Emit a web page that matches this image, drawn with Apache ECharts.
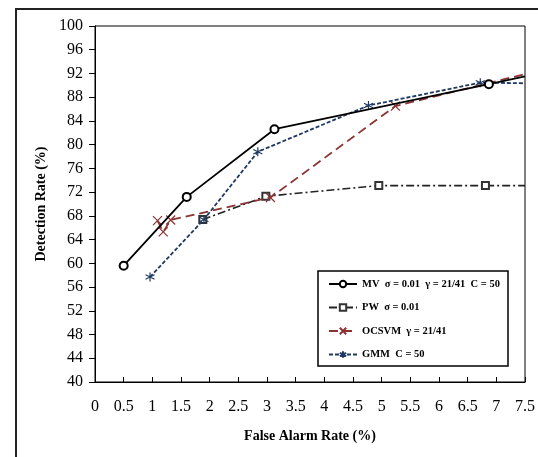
<!DOCTYPE html>
<html><head><meta charset="utf-8">
<script src="https://cdn.jsdelivr.net/npm/echarts@6/dist/echarts.min.js"></script>
<style>html,body{margin:0;padding:0;background:#fff}#c{width:538px;height:457px}</style>
</head><body><div id="c"></div>
<script>
// ---- data ----
const seriesNames = ['MV  \u03c3 = 0.01  \u03b3 = 21/41  C = 50', 'PW  \u03c3 = 0.01', 'OCSVM  \u03b3 = 21/41', 'GMM  C = 50'];
const mvX = [0.5, 1.6, 3.13, 6.87, 7.5];
const mvY = [59.6, 71.2, 82.6, 90.2, 91.5];
const pwX = [1.88, 2.98, 4.95, 6.81, 7.5];
const pwY = [67.4, 71.3, 73.1, 73.1, 73.1];
const ocX = [1.09, 1.19, 1.32, 3.06, 5.24, 7.5];
const ocY = [67.2, 65.3, 67.3, 71.1, 86.5, 91.9];
const gmX = [0.96, 1.9, 2.84, 4.77, 6.72, 7.5];
const gmY = [57.7, 67.4, 78.8, 86.6, 90.45, 90.35];
const xMin = 0, xMax = 7.5, xStep = 0.5;
const yMin = 40, yMax = 100, yStep = 4;
const xTitle = 'False Alarm Rate (%)';
const yTitle = 'Detection Rate (%)';

// ---- build ----
const FONT = 'Liberation Serif';
function pts(xs, ys) {
  return xs.map((x, i) => (x >= xMax ? { value: [x, ys[i]], symbol: 'none' } : [x, ys[i]]));
}
const crossPath = 'path://M0,0L10,10M10,0L0,10';
const starPath = 'path://M5,0L5,10M0.7,2.5L9.3,7.5M0.7,7.5L9.3,2.5';
const RED = '#8b3333', NAVY = '#1f3a62';

const chart = echarts.init(document.getElementById('c'), null, { renderer: 'canvas' });
chart.setOption({
  animation: false,
  backgroundColor: '#fff',
  grid: { left: 95, right: 13, top: 26, bottom: 75, show: true, borderColor: '#000', borderWidth: 1 },
  xAxis: {
    type: 'value', min: xMin, max: xMax, interval: xStep,
    name: xTitle, nameLocation: 'middle', nameGap: 47,
    nameTextStyle: { fontFamily: FONT, fontWeight: 'bold', fontSize: 14, color: '#000' },
    axisLine: { lineStyle: { color: '#000', width: 1 } },
    axisTick: { inside: true, length: 5, lineStyle: { color: '#000' } },
    axisLabel: { fontFamily: FONT, fontSize: 16, color: '#000', margin: 17 },
    splitLine: { show: false }
  },
  yAxis: {
    type: 'value', min: yMin, max: yMax, interval: yStep,
    name: yTitle, nameLocation: 'middle', nameGap: 45,
    nameTextStyle: { fontFamily: FONT, fontWeight: 'bold', fontSize: 14, color: '#000' },
    axisLine: { lineStyle: { color: '#000', width: 1 } },
    axisTick: { inside: false, length: 6, lineStyle: { color: '#000' } },
    axisLabel: { fontFamily: FONT, fontSize: 16, color: '#000', margin: 12 },
    splitLine: { show: false }
  },
  graphic: [
    { type: 'rect', shape: { x: 16, y: 9, width: 540, height: 470 }, style: { fill: 'none', stroke: '#222', lineWidth: 2 }, z: 0 },
    { type: 'rect', shape: { x: 318, y: 271, width: 190, height: 95 }, style: { fill: '#fff', stroke: '#000', lineWidth: 1.5 }, z: 5 }
  ],
  legend: {
    orient: 'vertical', left: 328, top: 277, padding: 0,
    itemWidth: 28, itemHeight: 8, itemGap: 9.5, z: 10,
    textStyle: { fontFamily: FONT, fontWeight: 'bold', fontSize: 10.5, lineHeight: 14, color: '#000' },
    data: seriesNames
  },
  series: [
    {
      name: seriesNames[1], type: 'line', data: pts(pwX, pwY), z: 3,
      symbol: 'emptyRect', symbolSize: 7,
      lineStyle: { color: '#222', width: 1.6, type: [8, 3, 2, 3] },
      itemStyle: { color: '#333', borderWidth: 1 }
    },
    {
      name: seriesNames[2], type: 'line', data: pts(ocX, ocY), z: 4,
      symbol: crossPath, symbolSize: 9,
      lineStyle: { color: RED, width: 1.8, type: [9, 5] },
      itemStyle: { color: RED, borderColor: RED, borderWidth: 1.2 }
    },
    {
      name: seriesNames[3], type: 'line', data: pts(gmX, gmY), z: 5,
      symbol: starPath, symbolSize: 9,
      lineStyle: { color: NAVY, width: 1.8, type: [4, 2] },
      itemStyle: { color: NAVY, borderColor: NAVY, borderWidth: 1.2 }
    },
    {
      name: seriesNames[0], type: 'line', data: pts(mvX, mvY), z: 6,
      symbol: 'emptyCircle', symbolSize: 8,
      lineStyle: { color: '#000', width: 1.8, type: 'solid' },
      itemStyle: { color: '#000', borderWidth: 1 }
    }
  ]
});
</script></body></html>
